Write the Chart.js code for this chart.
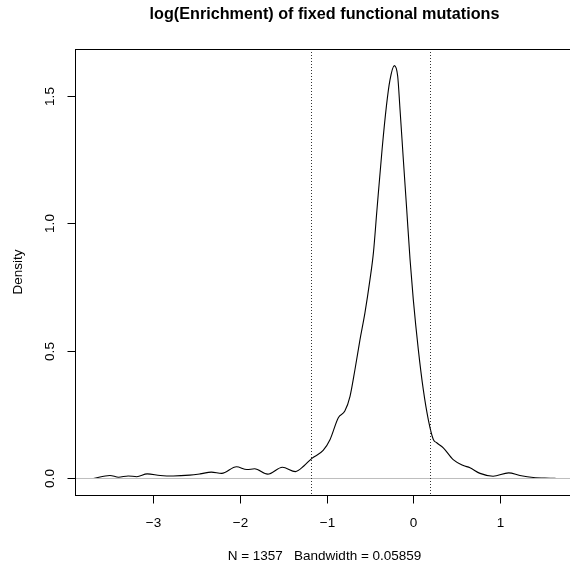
<!DOCTYPE html>
<html>
<head>
<meta charset="utf-8">
<script src="https://cdn.jsdelivr.net/npm/chart.js@4/dist/chart.umd.min.js"></script>
<style>
    html, body { margin: 0; padding: 0; overflow: hidden; background: #fff; }
    canvas { display: block; }
</style>
</head>
<body>
<canvas id="densityPlot" width="600" height="568"></canvas>
<script>
/* -------------------------------------------------------
   Data
------------------------------------------------------- */
const xValues = [
    -3.69, -3.50, -3.40, -3.29, -3.19, -3.07, -2.92, -2.77, -2.58, -2.46,
    -2.33, -2.21, -2.04, -1.92, -1.83, -1.68, -1.51, -1.36, -1.26, -1.17,
    -1.04, -0.96, -0.865, -0.79, -0.73, -0.673, -0.615, -0.558, -0.50, -0.46,
    -0.42, -0.36, -0.31, -0.27, -0.219, -0.18, -0.153, -0.115, -0.076, -0.038,
    0.0, 0.058, 0.115, 0.173, 0.231, 0.27, 0.346, 0.46, 0.577, 0.654,
    0.77, 0.92, 1.10, 1.23, 1.385, 1.58, 1.65
];
const densityValues = [
    0.000, 0.012, 0.005, 0.010, 0.007, 0.018, 0.012, 0.010, 0.013, 0.018,
    0.025, 0.020, 0.046, 0.035, 0.038, 0.017, 0.044, 0.027, 0.050, 0.079,
    0.110, 0.153, 0.238, 0.264, 0.322, 0.427, 0.544, 0.649, 0.779, 0.885,
    1.050, 1.290, 1.460, 1.560, 1.618, 1.576, 1.445, 1.250, 1.054, 0.860,
    0.701, 0.505, 0.349, 0.231, 0.153, 0.140, 0.120, 0.074, 0.051, 0.042,
    0.020, 0.009, 0.022, 0.012, 0.004, 0.001, 0.000
];

// dotted cutoff lines
const cutoffLines = [-1.177, 0.196];

// axis ticks
const xTicks = [-3, -2, -1, 0, 1];
const xTickLabels = ["\u22123", "\u22122", "\u22121", "0", "1"];
const yTicks = [0, 0.5, 1, 1.5];
const yTickLabels = ["0.0", "0.5", "1.0", "1.5"];

const titleText = "log(Enrichment) of fixed functional mutations";
const xLabelText = "N = 1357   Bandwidth = 0.05859";
const yLabelText = "Density";

/* -------------------------------------------------------
   R-style frame, axes and annotations
------------------------------------------------------- */
const FONT = "'Liberation Sans', Arial, Helvetica, sans-serif";

const rFrame = {
    id: "rFrame",
    beforeDraw(chart) {
        const c = chart.ctx;
        c.save();
        c.fillStyle = "#fff";
        c.fillRect(0, 0, chart.width, chart.height);
        c.restore();
    },
    afterDatasetsDraw(chart) {
        const c = chart.ctx;
        const xs = chart.scales.x;
        const ys = chart.scales.y;
        const a = chart.chartArea;

        c.save();

        // zero line
        c.strokeStyle = "#bebebe";
        c.lineWidth = 1;
        c.beginPath();
        c.moveTo(a.left, ys.getPixelForValue(0));
        c.lineTo(a.right, ys.getPixelForValue(0));
        c.stroke();

        // dotted cutoffs
        c.strokeStyle = "#333";
        c.setLineDash([1, 2]);
        cutoffLines.forEach(v => {
            const px = Math.round(xs.getPixelForValue(v)) + 0.5;
            c.beginPath();
            c.moveTo(px, a.top);
            c.lineTo(px, a.bottom);
            c.stroke();
        });
        c.setLineDash([]);

        // box
        c.strokeStyle = "#000";
        c.lineWidth = 1;
        c.strokeRect(Math.round(a.left) + 0.5, Math.round(a.top) + 0.5,
            Math.round(a.right - a.left), Math.round(a.bottom - a.top));

        // x ticks + labels
        c.fillStyle = "#000";
        c.font = "13.5px " + FONT;
        c.textAlign = "center";
        c.textBaseline = "middle";
        const bottom = Math.round(a.bottom) + 0.5;
        xTicks.forEach((v, i) => {
            const px = Math.round(xs.getPixelForValue(v)) + 0.5;
            c.beginPath();
            c.moveTo(px, bottom);
            c.lineTo(px, bottom + 8);
            c.stroke();
            c.fillText(xTickLabels[i], px, 523);
        });

        // y ticks + rotated labels
        const left = Math.round(a.left) + 0.5;
        yTicks.forEach((v, i) => {
            const py = Math.round(ys.getPixelForValue(v)) + 0.5;
            c.beginPath();
            c.moveTo(left, py);
            c.lineTo(left - 8, py);
            c.stroke();
            c.save();
            c.translate(50, py);
            c.rotate(-Math.PI / 2);
            c.fillText(yTickLabels[i], 0, 0);
            c.restore();
        });

        // axis titles
        const midX = (a.left + a.right) / 2;
        c.fillText(xLabelText, midX, 556);
        c.save();
        c.translate(18, (a.top + a.bottom) / 2);
        c.rotate(-Math.PI / 2);
        c.fillText(yLabelText, 0, 0);
        c.restore();

        // main title
        c.font = "bold 16.2px " + FONT;
        c.fillText(titleText, midX, 15);

        c.restore();
    }
};

const ctx = document.getElementById("densityPlot");
new Chart(ctx, {
    type: "line",
    data: {
        datasets: [{
            data: xValues.map((x, i) => ({ x, y: densityValues[i] })),
            borderColor: "#000",
            borderWidth: 1.1,
            pointRadius: 0,
            fill: false,
            cubicInterpolationMode: "monotone"
        }]
    },
    options: {
        responsive: false,
        animation: false,
        layout: { padding: { left: 75, top: 49, right: 26, bottom: 73 } },
        plugins: {
            legend: { display: false },
            tooltip: { enabled: false }
        },
        scales: {
            x: { type: "linear", min: -3.903, max: 1.854, display: false },
            y: { type: "linear", min: -0.0647, max: 1.683, display: false }
        }
    },
    plugins: [rFrame]
});
</script>
</body>
</html>
